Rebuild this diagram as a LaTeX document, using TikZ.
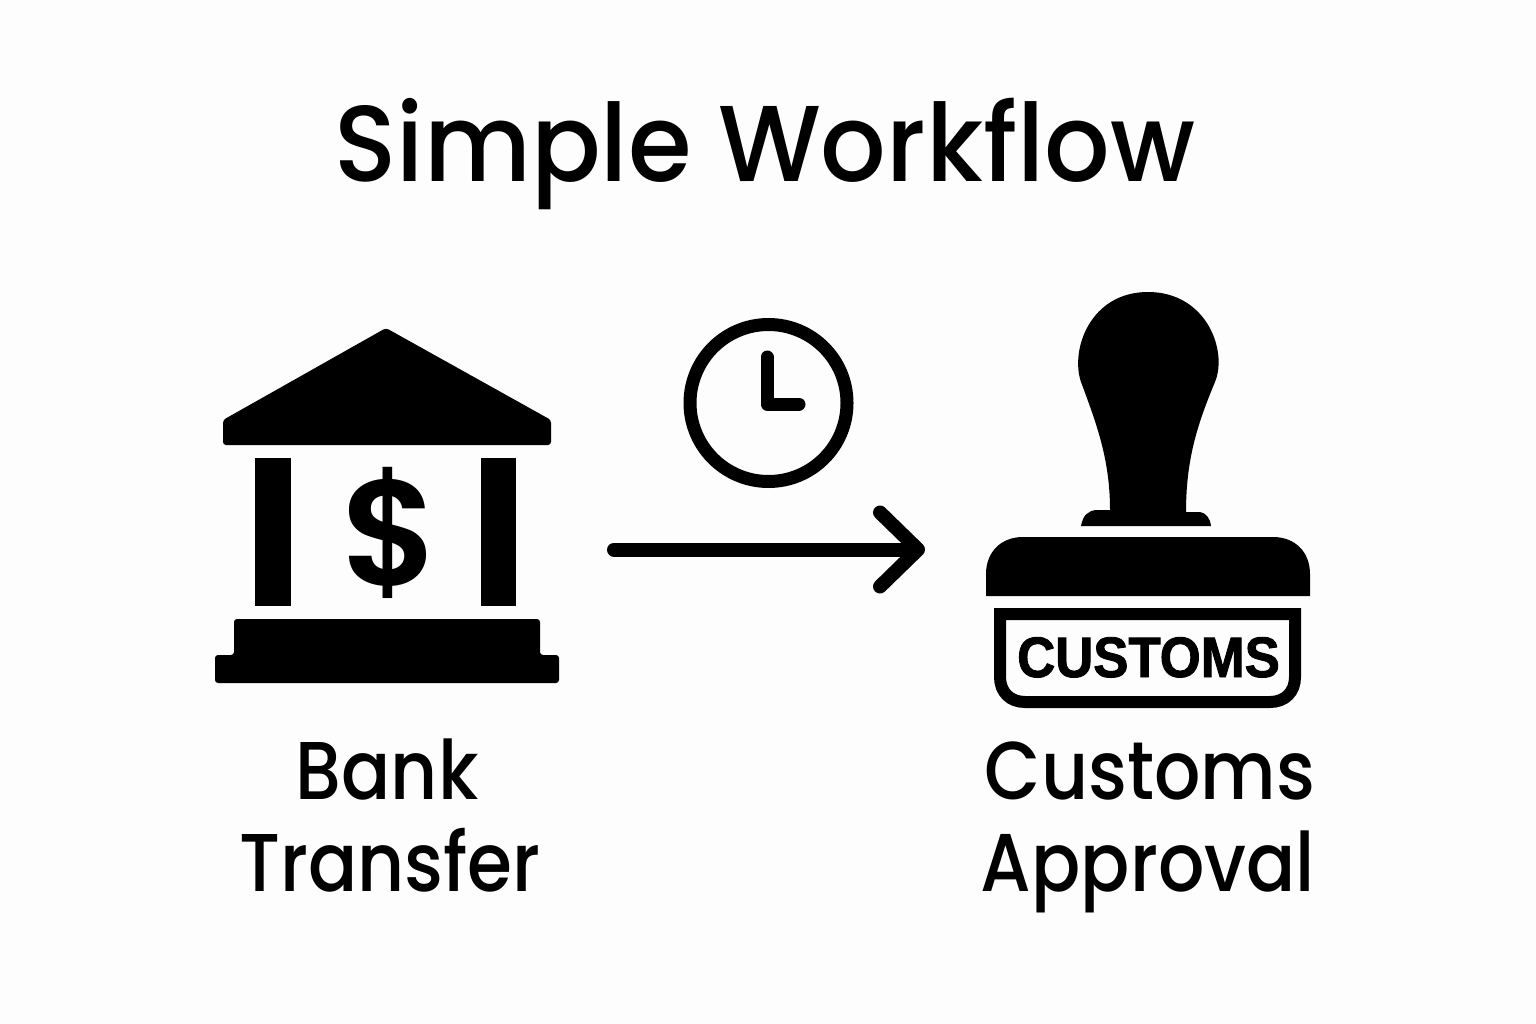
\documentclass[tikz,border=0pt]{standalone}
\usepackage{fontspec}
\setmainfont{Poppins Medium}
\newfontfamily\titlefont[FakeStretch=0.953]{Poppins Medium}
\newfontfamily\labelfont[FakeStretch=0.887]{Poppins Medium}
\newfontfamily\stampfont[FakeStretch=0.925, FakeBold=1.6]{Liberation Sans Bold}
\newfontfamily\dollarfont{Poppins SemiBold}
\usetikzlibrary{arrows.meta, positioning}
\definecolor{paper}{HTML}{FDFDFD}
\tikzstyle{titulo} = [font=\titlefont\fontsize{108}{108}\selectfont, anchor=base, inner sep=0pt]
\tikzstyle{etiqueta} = [font=\labelfont\fontsize{82}{82}\selectfont, anchor=base, inner sep=0pt]
\tikzstyle{solido} = [fill=black, draw=none]
\tikzstyle{trazo} = [draw=black, line width=13pt, line cap=round, line join=round]

\begin{document}
\begin{tikzpicture}[x=1pt, y=-1pt]
	\fill[paper] (0,0) rectangle (1536,1024);
	\useasboundingbox (0,0) rectangle (1536,1024);
	\node[titulo] (title) at (765,182) {Simple Workflow};
	% bank
	\fill[solido, rounded corners=3pt] (386,328) -- (551,420) -- (551,445) -- (223,445) -- (223,420) -- cycle;
	\fill[solido] (255,458) rectangle (291,606);
	\fill[solido] (481,458) rectangle (516,606);
	\fill[solido, rounded corners=3pt] (234,619) -- (540,619) -- (540,655) -- (559,655) -- (559,683) -- (215,683) -- (215,655) -- (234,655) -- cycle;
	\node[inner sep=0pt, font=\dollarfont\fontsize{150}{150}\selectfont] (dollar) at (391,533) {\$};
	\node[etiqueta] (bank) at (387,799) {Bank};
	\node[etiqueta] (transfer) at (390,891) {Transfer};
	% clock
	\node[draw=black, line width=13pt, circle, minimum size=157pt, inner sep=0pt] (clock) at (768.5,403) {};
	\draw[trazo] (767,357) -- (767,404) -- (799,404);
	% arrow
	\coordinate (from) at (614,549.5);
	\coordinate (to) at (925,549.5);
	\draw[draw=black, line width=14pt, line cap=round, -{Straight Barb[round, length=38pt, width=74pt]}] (from) -- (to);
	% stamp
	\fill[solido] (1081,526) .. controls (1083,515) and (1088,511) .. (1096,510) -- (1110,510)
		.. controls (1110,460) and (1097,425) .. (1081,382)
		.. controls (1070,350) and (1090,292) .. (1148,292)
		.. controls (1206,292) and (1228,350) .. (1215,382)
		.. controls (1197,425) and (1186,460) .. (1186,512) -- (1200,512)
		.. controls (1206,513) and (1210,518) .. (1211,526) -- cycle;
	\fill[solido] (986,596) -- (986,574) .. controls (986,552) and (1001,537) .. (1023,537) -- (1273,537) .. controls (1295,537) and (1310,552) .. (1310,574) -- (1310,596) -- cycle;
	\draw[draw=black, line width=12pt] (1000,614) -- (1295,614) -- (1295,677) .. controls (1295,692) and (1285,702) .. (1270,702) -- (1025,702) .. controls (1010,702) and (1000,692) .. (1000,677) -- cycle;
	\node[inner sep=0pt, anchor=base, font=\stampfont\fontsize{57}{57}\selectfont] (customs) at (1148.5,677) {CUSTOMS};
	\node[etiqueta] (customslabel) at (1150,799) {Customs};
	\node[etiqueta] (approval) at (1148,891) {Approval};
\end{tikzpicture}
\end{document}
